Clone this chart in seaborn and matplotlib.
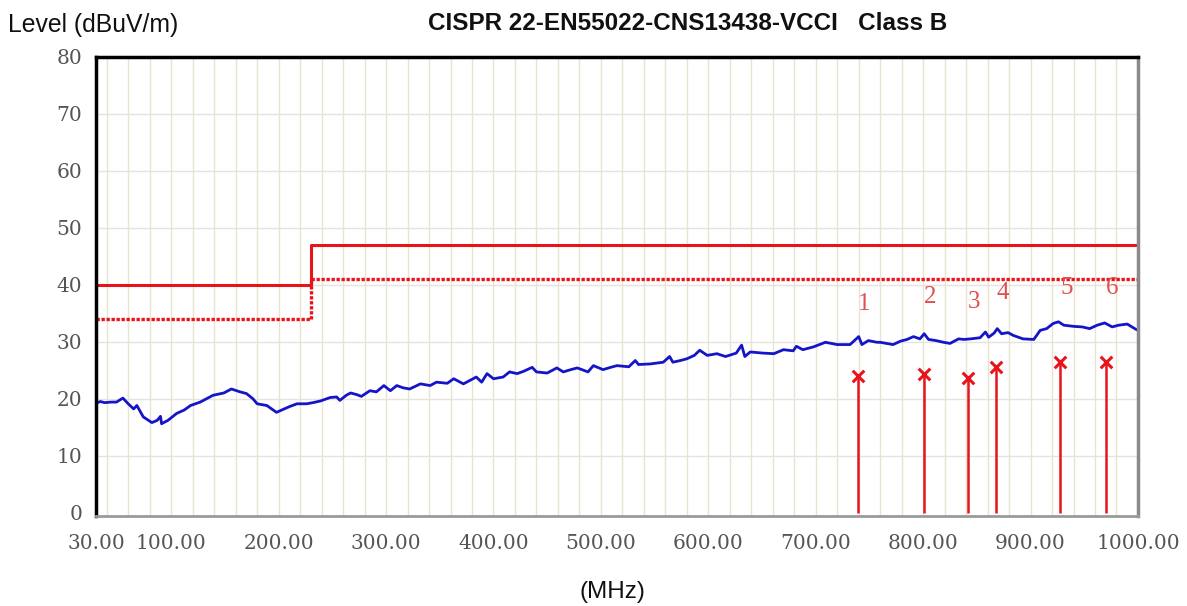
import numpy as np
import pandas as pd
import matplotlib
matplotlib.use("Agg")
import matplotlib.pyplot as plt
import seaborn as sns

freq = [30, 34, 38, 44, 49, 55, 60, 65, 68, 74, 82, 87, 90, 91, 97, 105, 112, 118, 127, 133,
        139, 149, 156, 164, 170, 176, 180, 189, 198, 204, 210, 217, 226, 232, 239, 248, 254, 257,
        263, 267, 273, 277, 285, 291, 298, 304, 310, 316, 322, 332, 341, 347, 357, 363, 372, 378,
        384, 389, 394, 400, 409, 415, 422, 428, 436, 440, 450, 459, 465, 472, 478, 488, 493, 502,
        509, 515, 521, 526, 532, 535, 546, 558, 564, 567, 574, 580, 587, 592, 599, 608, 616, 626,
        631, 634, 639, 645, 651, 661, 670, 679, 682, 688, 698, 709, 720, 732, 740, 743, 749, 757,
        760, 766, 772, 779, 785, 791, 797, 801, 805, 812, 819, 825, 833, 838, 844, 853, 858, 861,
        866, 869, 873, 879, 884, 893, 903, 909, 915, 921, 926, 931, 940, 948, 955, 962, 969, 976,
        982, 990, 997, 1000]
level = [19.2, 19.5, 19.3, 19.4, 19.4, 20.1, 19.1, 18.2, 18.8, 16.8, 15.8, 16.2, 16.9, 15.6, 16.2,
         17.4, 18.0, 18.8, 19.4, 20.0, 20.6, 21.0, 21.7, 21.2, 20.9, 20.0, 19.1, 18.8, 17.6, 18.1,
         18.6, 19.1, 19.1, 19.3, 19.6, 20.2, 20.3, 19.7, 20.6, 21.0, 20.7, 20.4, 21.4, 21.2, 22.3,
         21.4, 22.3, 21.9, 21.7, 22.6, 22.3, 22.9, 22.7, 23.5, 22.6, 23.2, 23.8, 22.9, 24.4, 23.5,
         23.8, 24.7, 24.4, 24.8, 25.5, 24.7, 24.5, 25.4, 24.7, 25.1, 25.4, 24.7, 25.8, 25.1, 25.5,
         25.8, 25.7, 25.6, 26.7, 26.0, 26.1, 26.4, 27.4, 26.4, 26.7, 27.0, 27.6, 28.5, 27.6, 27.9,
         27.4, 28.0, 29.4, 27.4, 28.2, 28.1, 28.0, 27.9, 28.6, 28.4, 29.2, 28.6, 29.1, 29.9, 29.5,
         29.5, 30.9, 29.5, 30.2, 29.9, 29.9, 29.7, 29.5, 30.1, 30.4, 30.9, 30.5, 31.4, 30.4, 30.2,
         29.9, 29.7, 30.5, 30.4, 30.5, 30.7, 31.7, 30.8, 31.5, 32.3, 31.4, 31.6, 31.1, 30.5, 30.4,
         32.0, 32.3, 33.2, 33.5, 32.9, 32.7, 32.6, 32.3, 32.9, 33.3, 32.6, 32.9, 33.1, 32.3, 32.0]

# limit lines
limit_f = [30, 230, 230, 1000]
qp_limit = [40, 40, 47, 47]
margin_limit = [34, 34, 41, 41]

# peaks
peak_no = ["1", "2", "3", "4", "5", "6"]
peak_f = [739.5, 800.8, 841.8, 868.0, 927.4, 970.3]
peak_lv = [23.9, 24.4, 23.7, 25.6, 26.5, 26.5]
label_lv = [36.7, 37.8, 37.0, 38.5, 39.4, 39.4]

xticks = [30, 100, 200, 300, 400, 500, 600, 700, 800, 900, 1000]
yticks = [0, 10, 20, 30, 40, 50, 60, 70, 80]

sns.set_style("white")
plt.rcParams['font.family'] = ['Liberation Sans', 'DejaVu Sans']

fig = plt.figure(figsize=(11.87, 6.06), dpi=100)
ax = fig.add_axes([0.0809, 0.149, 0.8778, 0.757])

# grid
for f in range(40, 1000, 20):
    ax.axvline(f, color='#e8e4d0', lw=1.0, zorder=0)
for y in range(10, 80, 10):
    ax.axhline(y, color='#e4e4dc', lw=1.0, zorder=0)

sns.lineplot(x=limit_f, y=qp_limit, estimator=None, sort=False, color='#e8141c', lw=2.2, ax=ax)
sns.lineplot(x=limit_f, y=margin_limit, estimator=None, sort=False, color='#e8141c', lw=2.4,
             linestyle=(0, (1.0, 0.5)), ax=ax)
sns.lineplot(x=freq, y=level, estimator=None, sort=False, color='#1414c8', lw=2.0, ax=ax)

ax.vlines(peak_f, 0, peak_lv, color='#e8141c', lw=1.8)
sns.scatterplot(x=peak_f, y=peak_lv, marker='x', s=70, color='#e8141c', linewidth=2.2, ax=ax, zorder=5)
for n, f, y in zip(peak_no, peak_f, label_lv):
    ax.text(f + 6, y, n, color='#e05050', fontsize=18, family='Liberation Serif',
            ha='center', va='center')

ax.set_xlim(30, 1000)
ax.set_ylim(-0.55, 80)
ax.set_xticks(xticks)
ax.set_xticklabels(["%.2f" % t for t in xticks], family='DejaVu Serif', fontsize=14.5, color='#555555')
ax.set_yticks(yticks)
ax.set_yticklabels([str(t) for t in yticks], family='DejaVu Serif', fontsize=14.5, color='#555555')
ax.tick_params(axis='x', direction='out', length=7, width=2.5, color='black', pad=6)
ax.tick_params(axis='y', direction='out', length=8, width=2.5, color='black', pad=2)

for s in ['left', 'top']:
    ax.spines[s].set_color('black')
    ax.spines[s].set_linewidth(2.5)
ax.spines['right'].set_color('#8a8a8a')
ax.spines['right'].set_linewidth(2.5)
ax.spines['bottom'].set_color('#9a9a9a')
ax.spines['bottom'].set_linewidth(2.0)

ax.set_xlabel("")
ax.set_ylabel("")
fig.text(0.007, 0.958, "Level (dBuV/m)", fontsize=17.8, ha='left', va='center', color='#111111')
fig.text(0.579, 0.962, "CISPR 22-EN55022-CNS13438-VCCI   Class B", fontsize=17.5,
         fontweight='bold', ha='center', va='center', color='#111111')
fig.text(0.516, 0.023, "(MHz)", fontsize=17.5, ha='center', va='center', color='#111111')

fig.savefig("out.png", dpi=100)
